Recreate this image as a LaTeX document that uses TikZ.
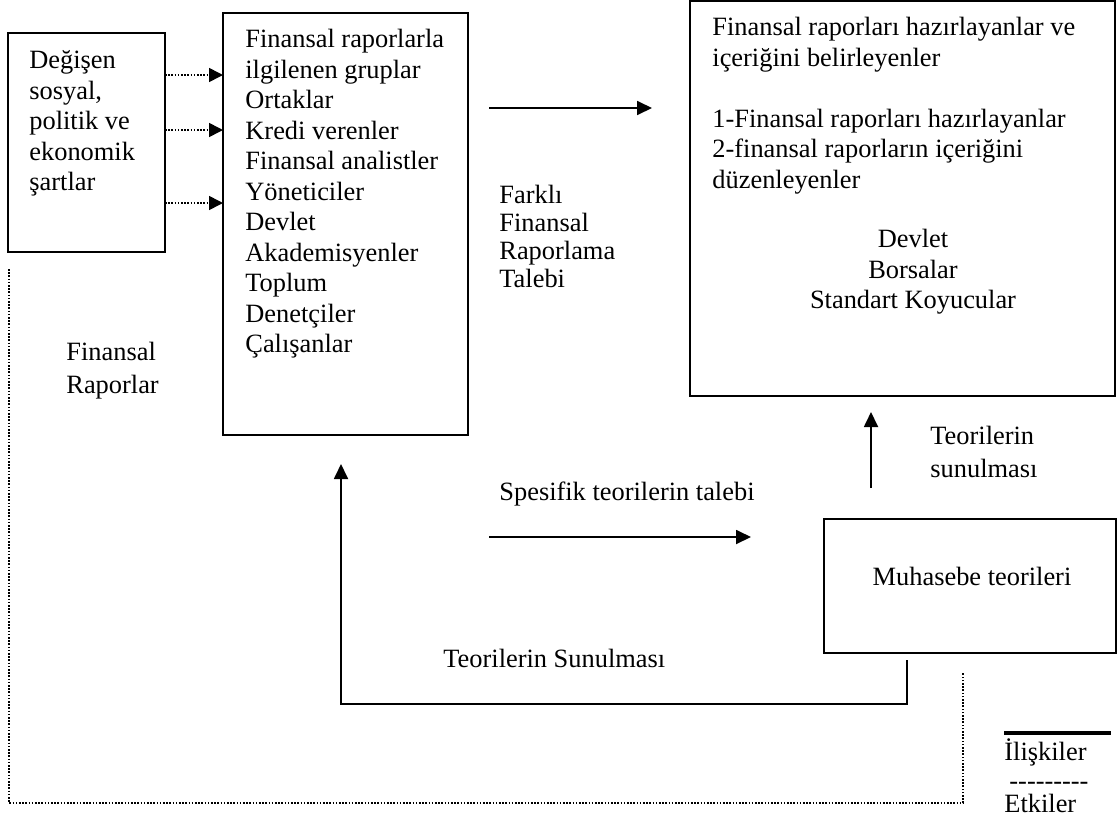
\documentclass[tikz,border=0pt]{standalone}
\usepackage{fontspec}
\setmainfont{Liberation Serif}
\usetikzlibrary{arrows.meta}
\usetikzlibrary{positioning}
\tikzset{kutu/.style = {draw, line width = 1.2pt, inner sep = 0, outer sep = 0}}
\tikzset{yazi/.style = {align = left, anchor = north west, inner sep = 0}}
\tikzset{ok/.style = {line width = 0.9pt, -{Triangle[length = 7.5pt, width = 7pt]}}}
\tikzset{etki/.style = {line width = 0.8pt, dash pattern = on 0.8pt off 0.8pt}}

\begin{document}
\begin{tikzpicture}[x = 0.5pt, y = -0.5pt, font = \fontsize{13.2}{15.25}\selectfont]
      \useasboundingbox (0, 0) rectangle (1117, 825);
      % kutular
      \node [kutu, minimum width = 78.5pt, minimum height = 109.5pt] (sartlar) at (86.5, 142.5) {};
      \node [kutu, minimum width = 122.5pt, minimum height = 211pt] (gruplar) at (345.5, 224) {};
      \node [kutu, minimum width = 212.5pt, minimum height = 197.5pt] (hazirlayan) at (902.5, 198.5) {};
      \node [kutu, minimum width = 146pt, minimum height = 67pt] (teoriler) at (970, 586) {};
      \node [yazi] (sartlaryazi) at (29, 47) {\strut Değişen\\sosyal,\\politik ve\\ekonomik\\şartlar};
      \node [yazi] (gruplaryazi) at (245, 26) {\strut Finansal raporlarla\\ilgilenen gruplar\\Ortaklar\\Kredi verenler\\Finansal analistler\\Yöneticiler\\Devlet\\Akademisyenler\\Toplum\\Denetçiler\\Çalışanlar};
      \node [yazi] (hazirlayanyazi) at (712, 14) {\strut Finansal raporları hazırlayanlar ve\\içeriğini belirleyenler\\[15.25pt]1-Finansal raporları hazırlayanlar\\2-finansal raporların içeriğini\\düzenleyenler};
      \node [yazi, align = center, anchor = north] (kurumlar) at (913, 226) {\strut Devlet\\Borsalar\\Standart Koyucular};
      \node [anchor = base] (teorileryazi) at (972, 585.5) {Muhasebe teorileri};
      % etiketler
      \node [yazi, font = \fontsize{13.2}{14}\selectfont] (talep) at (499, 183) {\strut Farklı\\Finansal\\Raporlama\\Talebi};
      \node [yazi, font = \fontsize{13.2}{16.5}\selectfont] (raporlar) at (66, 337) {\strut Finansal\\Raporlar};
      \node [yazi, font = \fontsize{13.2}{16.5}\selectfont] (sunum) at (930, 421) {\strut Teorilerin\\sunulması};
      \node [anchor = base west, inner sep = 0] (spesifik) at (499, 500.5) {Spesifik teorilerin talebi};
      \node [anchor = base west, inner sep = 0] (sunumalt) at (443, 667.5) {Teorilerin Sunulması};
      \node [anchor = base west, inner sep = 0] (iliski) at (1004, 760) {İlişkiler};
      \node [anchor = base west, inner sep = 0] (cizgiler) at (1009, 789) {-{}-{}-{}-{}-{}-{}-{}-{}-};
      \node [anchor = base west, inner sep = 0] (etkiler) at (1004, 812.5) {Etkiler};
      \draw [line width = 1.8pt] (1004, 733) -- (1111, 733);
      % oklar
      \foreach \y in {75, 130, 203} {
        \draw [etki, -{Triangle[length = 7pt, width = 7pt]}] (sartlar.east |- 0, \y) -- (gruplar.west |- 0, \y);
      }
      \coordinate (talep1) at (489, 108);
      \coordinate (talep2) at (652, 108);
      \draw [ok] (talep1) -- (talep2);
      \coordinate (spesifik1) at (489, 537);
      \coordinate (spesifik2) at (751, 537);
      \draw [ok] (spesifik1) -- (spesifik2);
      \coordinate (sunum1) at (871, 488);
      \coordinate (sunum2) at (871, 412);
      \draw [ok] (sunum1) -- (sunum2);
      \coordinate (donus1) at (907, 660);
      \coordinate (donus2) at (341, 704);
      \coordinate (donus3) at (341, 464);
      \draw [ok] (donus1) |- (donus2) -- (donus3);
      \coordinate (rapor1) at (9, 269);
      \coordinate (rapor2) at (963, 803);
      \coordinate (rapor3) at (963, 672);
      \draw [etki] (rapor1) |- (rapor2) -- (rapor3);
    \end{tikzpicture}
\end{document}
